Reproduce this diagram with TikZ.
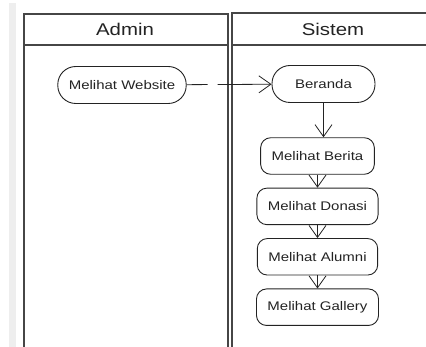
\documentclass[tikz,border=0pt]{standalone}
\usepackage{fontspec}
\setmainfont{Liberation Sans}[FakeStretch=1.2]
\usepackage{xcolor}
\usepackage{tikz}
\usetikzlibrary{arrows.meta,positioning}
\definecolor{laneGray}{RGB}{70,70,70}
\definecolor{inkDark}{RGB}{35,35,35}
\definecolor{stripGray}{RGB}{238,238,238}
\tikzset{
  startact/.style={
    rectangle, rounded corners=18pt, draw=inkDark, line width=0.9pt,
    minimum height=37pt, inner xsep=11pt, text=inkDark,
    font=\fontsize{12.5}{15}\selectfont
  },
  actbox/.style={
    rectangle, rounded corners=10pt, draw=inkDark, line width=0.9pt,
    minimum height=36.5pt, inner xsep=11pt, text=inkDark,
    font=\fontsize{12.5}{15}\selectfont
  },
  laneline/.style={line width=1.8pt, draw=laneGray},
  lanehead/.style={text=inkDark, font=\fontsize{17}{20}\selectfont},
  flowArrow/.style={-{Straight Barb[length=12pt,width=17pt]}, line width=0.8pt, color=inkDark}
}

\begin{document}
\begin{tikzpicture}[x=1pt, y=-1pt, node distance=13pt]
        \useasboundingbox (0,0) rectangle (426,347);
        \fill[stripGray] (9,3) rectangle (16,347);
        % swimlanes
        \draw[laneline] (24,347) -- (24,14) -- (228,14) -- (228,347);
        \draw[laneline] (24,45) -- (228,45);
        \draw[laneline] (232,347) -- (232,13) -- (426,13);
        \draw[laneline] (232,45) -- (426,45);
        \node[lanehead] (admin) at (125,29) {Admin};
        \node[lanehead] (sistem) at (333,29) {Sistem};
        % activities
        \node[startact] (website) at (122,85) {Melihat Website};
        \node[startact, minimum width=103pt] (beranda) at (323.5,84) {Beranda};
        \node[actbox] (berita) at (317.5,156) {Melihat Berita};
        \node[actbox, below=of berita] (donasi) {Melihat Donasi};
        \node[actbox, below=of donasi] (alumni) {Melihat Alumni};
        \node[actbox, below=of alumni] (gallery) {Melihat Gallery};
        % flows
        \draw[flowArrow, dash pattern=on 21pt off 10pt on 200pt] (website) -- (beranda);
        \draw[flowArrow] (beranda.south) -- (beranda.south |- berita.north);
        \draw[flowArrow] (berita) -- (donasi);
        \draw[flowArrow] (donasi) -- (alumni);
        \draw[flowArrow] (alumni) -- (gallery);
      \end{tikzpicture}
\end{document}
